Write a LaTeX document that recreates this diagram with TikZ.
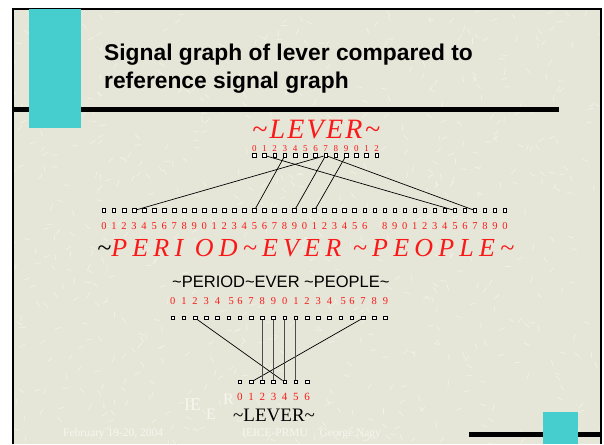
\documentclass[tikz,border=0pt]{standalone}
\usepackage{fontspec}
\setmainfont{Liberation Serif}
\newfontfamily\arial{Liberation Sans}
\definecolor{bg}{RGB}{230,230,216}
\definecolor{tex}{RGB}{242,242,232}
\definecolor{teal2}{RGB}{70,205,205}
\definecolor{faint}{RGB}{246,246,238}
\definecolor{sigred}{RGB}{250,25,25}
\newcommand{\tl}{\char"7E\relax}
\begin{document}
\begin{tikzpicture}[x=1pt,y=-1pt,
  sq/.style={draw=black,fill=white,line width=0.7pt,minimum size=3.6pt,inner sep=0pt,rectangle},
  digtop/.style={text=sigred,font=\fontsize{9}{9}\selectfont,inner sep=0pt,anchor=base},
  dig/.style={text=sigred,font=\fontsize{10.5}{10.5}\selectfont,inner sep=0pt,anchor=base},
  link/.style={line width=0.7pt,draw=black},
  vlink/.style={line width=1pt,draw=black!70},
  faintt/.style={text=faint,inner sep=0pt,anchor=base west},
  titlef/.style={anchor=base west,inner sep=0pt,font=\arial\bfseries\fontsize{22.8}{22.8}\selectfont}
  ]
\useasboundingbox (0,0) rectangle (604,444);
\fill[white] (0,0) rectangle (604,444);
\fill[bg] (13,9) rectangle (601,444);
% texture
\pgfmathsetseed{7}
\begin{scope}
\clip (13,9) rectangle (601,444);
\foreach \k in {1,...,700}{
  \pgfmathsetmacro{\px}{13+588*rnd}
  \pgfmathsetmacro{\py}{9+435*rnd}
  \pgfmathsetmacro{\pa}{360*rnd}
  \draw[tex,line width=0.6pt] (\px,\py) -- ++(\pa:6);
}
\end{scope}
\draw[line width=1.6pt] (13,444) -- (13,9) -- (601,9) -- (601,444);
\fill[black] (13,107) rectangle (559,112);
\fill[teal2] (29,9) rectangle (81,128);
\fill[black] (469,432) rectangle (601,437);
\fill[teal2] (543,412) rectangle (578,444);

% title
\node[titlef] (t1) at (104,60) {Signal graph of lever compared to};
\node[titlef] (t2) at (104,88) {reference signal graph};

% top LEVER
\node[anchor=base west,inner sep=0pt,text depth=0pt,text=sigred,font=\fontsize{28}{28}\selectfont\itshape\addfontfeatures{LetterSpace=8}] (lev) at (252,138.5) {\tl LEVER\tl};
\foreach \i in {0,...,12}{
  \node[sq] (a\i) at ({254.3+10.2*\i},155.5) {};
  \pgfmathtruncatemacro{\d}{mod(\i,10)}
  \node[digtop] (da\i) at ({254.3+10.2*\i},151.5) {\d};
}

% long row
\foreach \i in {0,...,40}{
  \node[sq] (b\i) at ({104+10.025*\i},210.5) {};
  \ifnum\i=27\else
  \pgfmathtruncatemacro{\d}{mod(\i,10)}
  \node[dig] (db\i) at ({104+10.025*\i},229.5) {\d};
  \fi
}
\node[anchor=base west,inner sep=0pt,text=sigred,font=\fontsize{26}{26}\selectfont\itshape\addfontfeatures{LetterSpace=20}] (per) at (97,256) {\textcolor{black}{\tl}PERI OD\tl EVER \tl PEOPLE\tl};

% middle
\node[anchor=base west,inner sep=0pt,font=\arial\fontsize{16.5}{16.5}\selectfont] (mid) at (172,287) {\tl PERIOD\tl EVER \tl PEOPLE\tl};
\foreach \i in {0,...,19}{
  \node[sq] (m\i) at ({172.7+11.2*\i},318) {};
  \pgfmathtruncatemacro{\d}{mod(\i,10)}
  \pgfmathsetmacro{\sh}{(\d==5)*2.5}
  \node[dig] (dm\i) at ({172.7+11.2*\i+\sh},304) {\d};
}
\node[sq,line width=1.3pt] at (m19) {};

% bottom
\foreach \i in {0,...,6}{
  \node[sq] (n\i) at ({172.7+11.2*(\i+6)},382) {};
  \node[dig,font=\fontsize{11}{11}\selectfont] (dn\i) at ({172.7+11.2*(\i+6)},400) {\i};
}
\node[anchor=base west,inner sep=0pt,font=\fontsize{19}{19}\selectfont] (lev2) at (233,421) {\tl LEVER\tl};

% connectors top
\draw[link] (a1) -- (b35);
\draw[link] (a3) -- (b15);
\draw[link] (a7) -- (b3);
\draw[link] (a7) -- (b19);
\draw[link] (a7) -- (b37);
\draw[link] (a9) -- (b21);

% connectors bottom
\draw[link] (m2) -- (n4);
\draw[link] (m17) -- (n1);
\draw[vlink] (m8) -- (n2);
\draw[vlink] (m9) -- (n3);
\draw[vlink] (m10) -- (n4);
\draw[vlink] (m11) -- (n5);

% faint footer
\node[faintt,font=\fontsize{18}{18}\selectfont] (w1) at (184,410) {IE};
\node[faintt,font=\fontsize{16}{16}\selectfont] (w2) at (206,419) {E};
\node[faintt,font=\fontsize{16}{16}\selectfont] (w3) at (223,404) {R};
\node[faintt,font=\fontsize{11.5}{11.5}\selectfont] (f1) at (63,436) {February 19-20, 2004};
\node[faintt,font=\fontsize{11.5}{11.5}\selectfont] (f2) at (242,436) {IEICE-PRMU\quad George Nagy};
\end{tikzpicture}
\end{document}
